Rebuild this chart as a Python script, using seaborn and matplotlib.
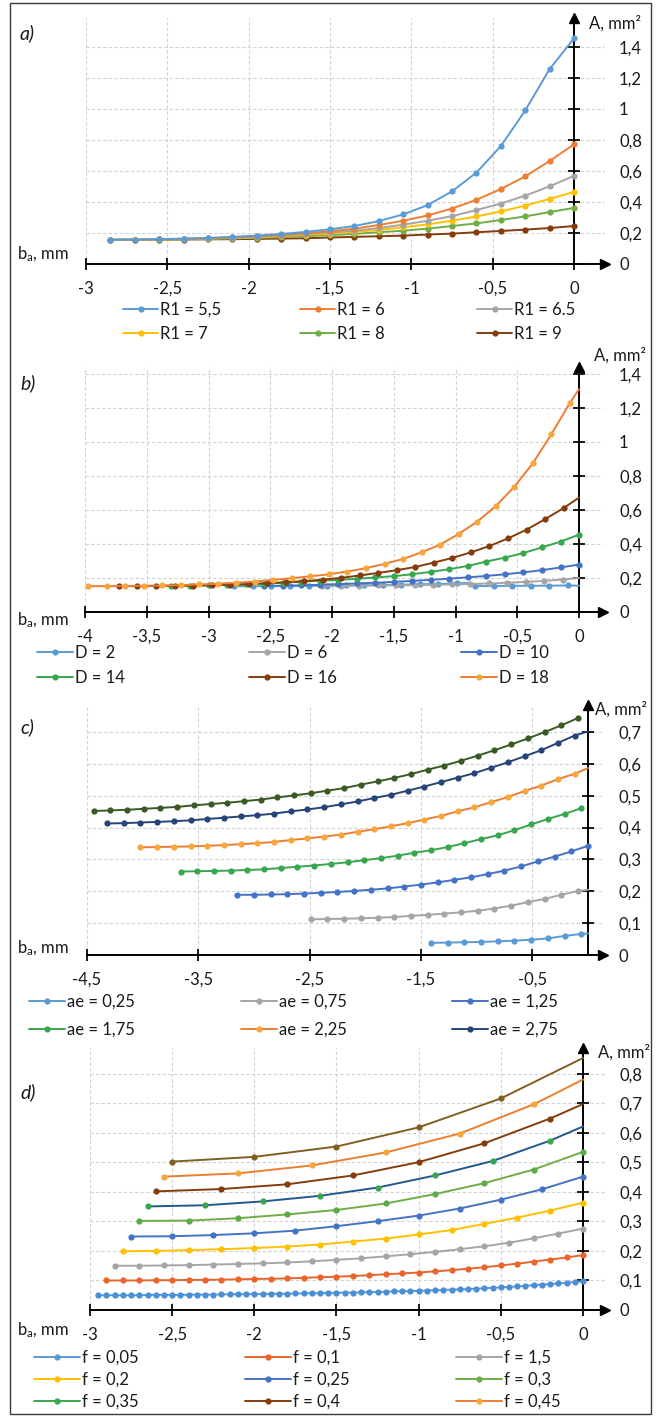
import numpy as np
import pandas as pd
import seaborn as sns
import matplotlib.pyplot as plt
from matplotlib.lines import Line2D
from matplotlib.patches import Rectangle

W, H = 662, 1416

# ---- panel a: R1 ----
xa = [0, -0.15, -0.3, -0.45, -0.6, -0.75, -0.9, -1.05, -1.2, -1.35, -1.5,
      -1.65, -1.8, -1.95, -2.1, -2.25, -2.4, -2.55, -2.7, -2.85]
r1_55 = [1.456, 1.258, 0.991, 0.761, 0.59, 0.469, 0.38, 0.32, 0.277, 0.245, 0.224,
         0.207, 0.194, 0.183, 0.175, 0.168, 0.164, 0.16, 0.158, 0.156]
r1_6 = [0.772, 0.665, 0.565, 0.484, 0.414, 0.358, 0.313, 0.279, 0.252, 0.228, 0.211,
        0.198, 0.188, 0.179, 0.173, 0.166, 0.162, 0.159, 0.157, 0.156]
r1_65 = [0.569, 0.501, 0.441, 0.39, 0.348, 0.309, 0.279, 0.254, 0.232, 0.215, 0.203,
         0.192, 0.183, 0.175, 0.169, 0.165, 0.161, 0.159, 0.157, 0.156]
r1_7 = [0.465, 0.42, 0.377, 0.339, 0.307, 0.279, 0.256, 0.237, 0.22, 0.207, 0.196,
        0.188, 0.179, 0.173, 0.168, 0.164, 0.161, 0.159, 0.157, 0.156]
r1_8 = [0.362, 0.335, 0.307, 0.284, 0.262, 0.245, 0.228, 0.215, 0.205, 0.194, 0.186,
        0.179, 0.173, 0.168, 0.165, 0.162, 0.16, 0.158, 0.157, 0.156]
r1_9 = [0.245, 0.232, 0.222, 0.213, 0.205, 0.196, 0.19, 0.183, 0.179, 0.175, 0.171,
        0.166, 0.164, 0.162, 0.16, 0.159, 0.158, 0.157, 0.156, 0.156]
labels_a = ["R1 = 5,5", "R1 = 6", "R1 = 6.5", "R1 = 7", "R1 = 8", "R1 = 9"]

# ---- panel b: D ----
xb18 = [0, -0.075, -0.225, -0.375, -0.525, -0.675, -0.825, -0.975, -1.125, -1.275,
        -1.425, -1.575, -1.725, -1.875, -2.025, -2.175, -2.325, -2.475, -2.625,
        -2.775, -2.925, -3.075, -3.225, -3.375, -3.525, -3.675, -3.825, -3.975]
d18 = [1.31, 1.229, 1.044, 0.874, 0.736, 0.622, 0.531, 0.459, 0.396, 0.351, 0.312,
       0.283, 0.258, 0.238, 0.222, 0.21, 0.199, 0.189, 0.179, 0.172, 0.166, 0.162,
       0.158, 0.156, 0.154, 0.153, 0.152, 0.152]
xb16 = [0, -0.125, -0.275, -0.425, -0.575, -0.725, -0.875, -1.025, -1.175, -1.325,
        -1.475, -1.625, -1.775, -1.925, -2.075, -2.225, -2.375, -2.525, -2.675,
        -2.825, -2.975, -3.125, -3.275, -3.425, -3.575, -3.725]
d16 = [0.673, 0.611, 0.546, 0.484, 0.433, 0.388, 0.351, 0.318, 0.291, 0.265, 0.246,
       0.23, 0.215, 0.201, 0.19, 0.182, 0.175, 0.169, 0.164, 0.16, 0.157, 0.155,
       0.154, 0.153, 0.152, 0.152]
xb14 = [0, -0.15, -0.3, -0.45, -0.6, -0.75, -0.9, -1.05, -1.2, -1.35, -1.5, -1.65,
        -1.8, -1.95, -2.1, -2.25, -2.4, -2.55, -2.7, -2.85, -3.0, -3.15, -3.3]
d14 = [0.455, 0.414, 0.38, 0.347, 0.32, 0.297, 0.271, 0.252, 0.236, 0.222, 0.211,
       0.203, 0.195, 0.189, 0.184, 0.178, 0.172, 0.167, 0.163, 0.16, 0.157, 0.155, 0.154]
d10 = [0.279, 0.262, 0.246, 0.233, 0.222, 0.212, 0.204, 0.196, 0.189, 0.183, 0.177,
       0.172, 0.168, 0.164, 0.16, 0.157, 0.155, 0.153]
xb6 = [0, -0.13, -0.28, -0.43, -0.58, -0.73, -0.88, -1.03, -1.18, -1.33, -1.48,
       -1.63, -1.78, -1.93, -2.08]
d6 = [0.2, 0.191, 0.183, 0.177, 0.172, 0.168, 0.165, 0.162, 0.16, 0.158, 0.157,
      0.156, 0.155, 0.154, 0.153]
xb2 = [0, -0.09, -0.24, -0.39, -0.54, -0.69, -0.84, -0.87, -0.99, -1.14, -1.29,
       -1.44, -1.59, -1.74, -1.89, -2.04, -2.19, -2.34, -2.49, -2.64, -2.79]
d2 = [0.155, 0.156, 0.155, 0.154, 0.154, 0.153, 0.153, 0.172, 0.168, 0.165, 0.163,
      0.161, 0.159, 0.157, 0.156, 0.155, 0.154, 0.153, 0.152, 0.152, 0.152]
labels_b = ["D = 2", "D = 6", "D = 10", "D = 14", "D = 16", "D = 18"]

# ---- panel c: ae ----
xc1 = [-0.09, -0.24, -0.39, -0.54, -0.69, -0.84, -0.99, -1.14, -1.29, -1.44, -1.59,
       -1.74, -1.89, -2.04, -2.19, -2.34, -2.49, -2.64, -2.79, -2.94, -3.09, -3.24,
       -3.39, -3.54, -3.69, -3.84, -3.99, -4.14, -4.29, -4.44]
c_top = [0.744, 0.721, 0.700, 0.680, 0.661, 0.643, 0.626, 0.610, 0.595, 0.582, 0.568,
         0.556, 0.545, 0.535, 0.524, 0.516, 0.508, 0.501, 0.495, 0.488, 0.483, 0.478,
         0.474, 0.470, 0.465, 0.462, 0.459, 0.456, 0.454, 0.452]
xc2 = [0, -0.12, -0.27, -0.42, -0.57, -0.72, -0.87, -1.02, -1.17, -1.32, -1.47, -1.62,
       -1.77, -1.92, -2.07, -2.22, -2.37, -2.52, -2.67, -2.82, -2.97, -3.12, -3.27,
       -3.42, -3.57, -3.72, -3.87, -4.02, -4.17, -4.32]
ae275 = [0.702, 0.689, 0.666, 0.643, 0.624, 0.605, 0.588, 0.571, 0.557, 0.543, 0.529,
         0.516, 0.503, 0.493, 0.482, 0.473, 0.464, 0.457, 0.451, 0.444, 0.439, 0.435,
         0.431, 0.427, 0.423, 0.420, 0.418, 0.416, 0.414, 0.413]
ae225 = [0.587, 0.569, 0.552, 0.532, 0.515, 0.496, 0.48, 0.464, 0.451, 0.437, 0.425,
         0.414, 0.404, 0.395, 0.387, 0.378, 0.372, 0.366, 0.361, 0.355, 0.351, 0.348,
         0.345, 0.343, 0.341, 0.34, 0.339, 0.338]
xc3 = [0, -0.06, -0.21, -0.36, -0.51, -0.66, -0.81, -0.96, -1.11, -1.26, -1.41, -1.56,
       -1.71, -1.86, -2.01, -2.16, -2.31, -2.46, -2.61, -2.76, -2.91, -3.06, -3.21,
       -3.36, -3.51, -3.66]
ae175 = [0.461, 0.443, 0.427, 0.41, 0.392, 0.376, 0.364, 0.351, 0.339, 0.329, 0.321,
         0.312, 0.304, 0.298, 0.291, 0.286, 0.281, 0.277, 0.273, 0.269, 0.267, 0.265,
         0.264, 0.263, 0.262]
ae025 = [0.068, 0.066, 0.06, 0.052, 0.048, 0.045, 0.043, 0.041, 0.04, 0.039, 0.038]
xc4 = [0, -0.15, -0.3, -0.45, -0.6, -0.75, -0.9, -1.05, -1.2, -1.35, -1.5, -1.65,
       -1.8, -1.95, -2.1, -2.25, -2.4, -2.55, -2.7, -2.85, -3.0, -3.15]
ae125 = [0.343, 0.325, 0.309, 0.294, 0.278, 0.265, 0.254, 0.244, 0.236, 0.228, 0.221,
         0.215, 0.209, 0.205, 0.201, 0.198, 0.195, 0.193, 0.191, 0.19, 0.189, 0.189]
ae075 = [0.205, 0.201, 0.189, 0.176, 0.166, 0.155, 0.146, 0.139, 0.134, 0.13, 0.126,
         0.123, 0.119, 0.117, 0.115, 0.114, 0.113, 0.112]
labels_c = ["ae = 0,25", "ae = 0,75", "ae = 1,25", "ae = 1,75", "ae = 2,25", "ae = 2,75"]

# ---- panel d: f ----
xd = [0, -0.05, -0.1, -0.15, -0.2, -0.25, -0.3, -0.35, -0.4, -0.45, -0.5, -0.55, -0.6,
      -0.65, -0.7, -0.75, -0.8, -0.85, -0.9, -0.95, -1.0, -1.05, -1.1, -1.15, -1.2,
      -1.25, -1.3, -1.35, -1.4, -1.45, -1.5, -1.55, -1.6, -1.65, -1.7, -1.75, -1.8,
      -1.85, -1.9, -1.95, -2.0, -2.05, -2.1, -2.15, -2.2, -2.25, -2.3, -2.35, -2.4,
      -2.45, -2.5, -2.55, -2.6, -2.65, -2.7, -2.75, -2.8, -2.85, -2.9, -2.95]
f005 = [0.097, 0.095, 0.092, 0.090, 0.088, 0.086, 0.084, 0.082, 0.080, 0.078,
        0.077, 0.075, 0.074, 0.072, 0.071, 0.070, 0.069, 0.068, 0.067, 0.066,
        0.065, 0.064, 0.064, 0.063, 0.062, 0.061, 0.061, 0.060, 0.059, 0.059,
        0.058, 0.058, 0.057, 0.057, 0.056, 0.056, 0.055, 0.055, 0.055, 0.054,
        0.054, 0.054, 0.053, 0.053, 0.053, 0.052, 0.052, 0.052, 0.052, 0.051,
        0.051, 0.051, 0.051, 0.051, 0.050, 0.050, 0.050, 0.050, 0.050, 0.050]
f01 = [0.186, 0.178, 0.171, 0.164, 0.157, 0.151, 0.145, 0.140, 0.135, 0.131, 0.127,
       0.124, 0.121, 0.118, 0.115, 0.113, 0.111, 0.109, 0.107, 0.106, 0.105, 0.104,
       0.103, 0.102, 0.102, 0.101, 0.101, 0.100, 0.100, 0.100]
f15 = [0.276, 0.259, 0.243, 0.228, 0.216, 0.206, 0.197, 0.189, 0.182, 0.175, 0.170,
       0.165, 0.161, 0.158, 0.156, 0.154, 0.152, 0.151, 0.150, 0.150]
f02 = [0.364, 0.337, 0.313, 0.292, 0.271, 0.256, 0.242, 0.232, 0.222, 0.215, 0.210,
       0.206, 0.203, 0.200, 0.199]
f025 = [0.452, 0.409, 0.374, 0.344, 0.320, 0.301, 0.284, 0.269, 0.260, 0.254, 0.250, 0.249]
f03 = [0.536, 0.476, 0.430, 0.393, 0.361, 0.339, 0.324, 0.311, 0.303, 0.302]
xd035 = [0, -0.2, -0.55, -0.9, -1.25, -1.6, -1.95, -2.3, -2.65]
f035 = [0.622, 0.574, 0.505, 0.456, 0.415, 0.387, 0.368, 0.355, 0.351]
xd04 = [0, -0.2, -0.6, -1.0, -1.4, -1.8, -2.2, -2.6]
f04 = [0.698, 0.649, 0.565, 0.501, 0.456, 0.426, 0.410, 0.402]
xd045 = [0, -0.3, -0.75, -1.2, -1.65, -2.1, -2.55]
f045 = [0.781, 0.697, 0.598, 0.534, 0.490, 0.463, 0.452]
xd_top = [0, -0.5, -1.0, -1.5, -2.0, -2.5]
f_top = [0.854, 0.717, 0.619, 0.554, 0.519, 0.503]
labels_d = ["f = 0,05", "f = 0,1", "f = 1,5", "f = 0,2", "f = 0,25", "f = 0,3",
            "f = 0,35", "f = 0,4", "f = 0,45"]

# ticks
xt_a = [-3, -2.5, -2, -1.5, -1, -0.5, 0]
xtl_a = ["-3", "-2,5", "-2", "-1,5", "-1", "-0,5", "0"]
xt_b = [-4, -3.5, -3, -2.5, -2, -1.5, -1, -0.5, 0]
xtl_b = ["-4", "-3,5", "-3", "-2,5", "-2", "-1,5", "-1", "-0,5", "0"]
xt_c = [-4.5, -3.5, -2.5, -1.5, -0.5]
xtl_c = ["-4,5", "-3,5", "-2,5", "-1,5", "-0,5"]
yt_14 = [0, 0.2, 0.4, 0.6, 0.8, 1.0, 1.2, 1.4]
ytl_14 = ["0", "0,2", "0,4", "0,6", "0,8", "1", "1,2", "1,4"]
yt_07 = [0, 0.1, 0.2, 0.3, 0.4, 0.5, 0.6, 0.7]
ytl_07 = ["0", "0,1", "0,2", "0,3", "0,4", "0,5", "0,6", "0,7"]
yt_08 = [0, 0.1, 0.2, 0.3, 0.4, 0.5, 0.6, 0.7, 0.8]
ytl_08 = ["0", "0,1", "0,2", "0,3", "0,4", "0,5", "0,6", "0,7", "0,8"]

# colours
LBLUE, ORANGE, GRAY, GOLD = "#5B9BD5", "#ED7D31", "#A5A5A5", "#FFC000"
BLUE, GREEN, BROWN, NAVY = "#4472C4", "#70AD47", "#843C0C", "#264478"
BGREEN, DKGREEN, OLIVE, LORANGE = "#36A64F", "#3A5A25", "#7F6020", "#F9A73A"
REDOR, TEAL = "#E9652C", "#22598C"

sns.set_theme(style="white", rc={"text.color": "#1a1a1a", "xtick.color": "#1a1a1a",
                                 "ytick.color": "#1a1a1a"})
plt.rcParams["font.family"] = ["Lato", "DejaVu Sans"]
plt.rcParams["mathtext.fontset"] = "custom"
plt.rcParams["mathtext.rm"] = "Lato"
plt.rcParams["mathtext.it"] = "Lato:italic"

fig = plt.figure(figsize=(W / 100, H / 100), dpi=100)
FS = 12
FS_PX = FS / 72 * 100


def panel(box, xlim, ylim, xt, xtl, yt, ytl):
    L, R, T, B = box
    ax = fig.add_axes([L / W, 1 - B / H, (R - L) / W, (B - T) / H])
    ax.set_facecolor("none")
    ax.set_xlim(xlim)
    ax.set_ylim(ylim)
    ax.set_xticks(xt, xtl)
    ax.set_yticks(yt, ytl)
    ax.spines["top"].set_visible(False)
    ax.spines["left"].set_visible(False)
    ax.spines["right"].set_position(("data", 0))
    for s in ["right", "bottom"]:
        ax.spines[s].set_color("black")
        ax.spines[s].set_linewidth(1.4)
    ax.yaxis.set_ticks_position("right")
    ax.xaxis.set_ticks_position("bottom")
    zero_px = L + (0 - xlim[0]) / (xlim[1] - xlim[0]) * (R - L)
    ypad = (619 - zero_px) * 0.72 - 4
    ax.tick_params(axis="y", direction="inout", length=8, width=1.4, pad=ypad,
                   labelsize=FS)
    ax.tick_params(axis="x", direction="inout", length=8, width=1.4, pad=8,
                   labelsize=FS)
    ax.grid(True, ls=(0, (3, 2)), color="#d2d2d2", lw=0.8)
    ax.set_axisbelow(True)
    ax.plot([xlim[1]], [0], marker=">", color="black", ms=7, clip_on=False, zorder=5)
    ax.plot([0], [ylim[1]], marker="^", color="black", ms=7, clip_on=False, zorder=5)
    return ax


def draw(ax, series):
    for xs, ys, lc, mc, me in series:
        sns.lineplot(x=xs, y=ys, ax=ax, color=lc, marker="o", markersize=4.5,
                     markerfacecolor=mc, markeredgewidth=0, linewidth=1.4,
                     sort=False, estimator=None, markevery=me, zorder=3,
                     clip_on=False)


def legend_entries(entries, cols, rows, hlen):
    for i, (lab, lc, mc) in enumerate(entries):
        px, py = cols[i % 3], rows[i // 3]
        h = Line2D([], [], color=lc, marker="o", ms=4.5, mfc=mc, mew=0, lw=1.4)
        fig.legend([h], [lab], loc="center left",
                   bbox_to_anchor=(px / W, 1 - py / H), frameon=False,
                   borderpad=0, borderaxespad=0, handlelength=hlen / FS_PX,
                   handletextpad=0.12, fontsize=FS)


def label_texts(letter, letter_y, ylab_x, ylab_y, xlab_y):
    fig.text(20 / W, 1 - letter_y / H, letter, fontsize=14, style="italic",
             ha="left", va="center")
    fig.text(ylab_x / W, 1 - ylab_y / H, "A, mm²", fontsize=FS, ha="left", va="center")
    fig.text(17 / W, 1 - xlab_y / H, r"b$_\mathrm{a}$, mm", fontsize=FS,
             ha="left", va="center")


# panel a
ax_a = panel((86, 605, 18, 264), (-3, 0.19), (0, 1.587), xt_a, xtl_a, yt_14, ytl_14)
draw(ax_a, [
    (xa, r1_9, BROWN, BROWN, None),
    (xa, r1_8, GREEN, GREEN, None),
    (xa, r1_7, GOLD, GOLD, None),
    (xa, r1_65, GRAY, GRAY, None),
    (xa, r1_6, ORANGE, ORANGE, None),
    (xa, r1_55, LBLUE, LBLUE, None),
])
legend_entries(list(zip(labels_a, [LBLUE, ORANGE, GRAY, GOLD, GREEN, BROWN],
                        [LBLUE, ORANGE, GRAY, GOLD, GREEN, BROWN])),
               [123, 300, 477], [310, 334], 35)
label_texts("a)", 33, 589, 23, 254)

# panel b
ax_b = panel((85, 603, 367, 612), (-4, 0.194), (0, 1.441), xt_b, xtl_b, yt_14, ytl_14)
draw(ax_b, [
    (xb2, d2, LBLUE, LBLUE, [i for i in range(1, len(xb2)) if i != 7]),
    (xb6, d6, GRAY, GRAY, slice(1, None)),
    (xb14[:18], d10, BLUE, BLUE, None),
    (xb14, d14, BGREEN, BGREEN, None),
    (xb16, d16, BROWN, BROWN, slice(1, None)),
    (xb18, d18, ORANGE, LORANGE, slice(1, None)),
])
legend_entries(list(zip(labels_b, [LBLUE, GRAY, BLUE, BGREEN, BROWN, ORANGE],
                        [LBLUE, GRAY, BLUE, BGREEN, BROWN, LORANGE])),
               [37, 249, 461], [653, 678], 36)
label_texts("b)", 383, 594, 355, 620)

# panel c
ax_c = panel((87, 603, 705, 955), (-4.5, 0.135), (0, 0.785), xt_c, xtl_c, yt_07, ytl_07)
draw(ax_c, [
    (xc3[:11], ae025, LBLUE, LBLUE, slice(1, None)),
    ([0] + xc1[:17], ae075, GRAY, GRAY, slice(1, None)),
    (xc4, ae125, BLUE, BLUE, None),
    (xc3[1:], ae175, BGREEN, BGREEN, None),
    (xc2[:28], ae225, ORANGE, LORANGE, slice(1, None)),
    (xc2, ae275, NAVY, NAVY, slice(1, None)),
    (xc1, c_top, DKGREEN, DKGREEN, None),
])
legend_entries(list(zip(labels_c, [LBLUE, GRAY, BLUE, BGREEN, ORANGE, NAVY],
                        [LBLUE, GRAY, BLUE, BGREEN, LORANGE, NAVY])),
               [29, 241, 452], [1002, 1030], 36)
label_texts("c)", 727, 595, 709, 948)

# panel d
ax_d = panel((90, 605, 1048, 1310), (-3, 0.134), (0, 0.888), xt_a, xtl_a, yt_08, ytl_08)
draw(ax_d, [
    (xd, f005, LBLUE, "#4A8FD6", None),
    (xd[::2], f01, REDOR, REDOR, None),
    (xd[::3], f15, GRAY, GRAY, None),
    (xd[::4], f02, GOLD, GOLD, None),
    (xd[::5], f025, BLUE, BLUE, None),
    (xd[::6], f03, GREEN, "#5DAA48", None),
    (xd035, f035, TEAL, BGREEN, slice(1, None)),
    (xd04, f04, BROWN, BROWN, slice(1, None)),
    (xd045, f045, ORANGE, LORANGE, slice(1, None)),
    (xd_top, f_top, OLIVE, OLIVE, slice(1, None)),
])
legend_entries(list(zip(labels_d,
                        [LBLUE, REDOR, GRAY, GOLD, BLUE, GREEN, BGREEN, BROWN, ORANGE],
                        [LBLUE, REDOR, GRAY, GOLD, BLUE, GREEN, BGREEN, BROWN, LORANGE])),
               [34, 245, 456], [1358, 1380, 1402], 46)
label_texts("d)", 1092, 598, 1052, 1330)

# outer frame
fig.add_artist(Rectangle((10 / W, 1 - 1414 / H), 641 / W, 1411 / H,
                         transform=fig.transFigure, fill=False, ec="#3a3a3a", lw=1.0))

fig.savefig("out.png", dpi=100)
